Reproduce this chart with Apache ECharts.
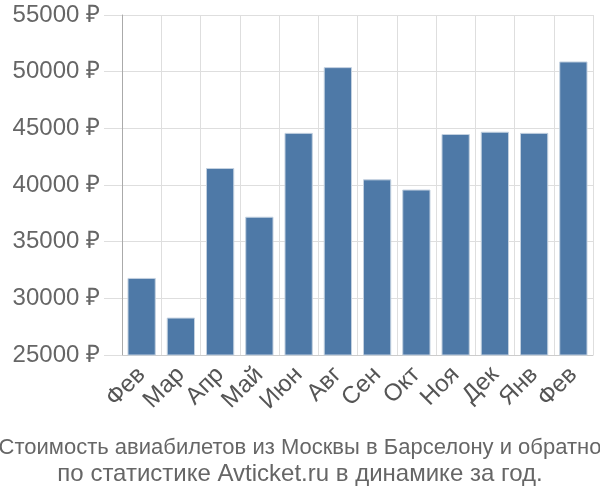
<!DOCTYPE html>
<html>
<head>
<meta charset="utf-8">
<script src="https://cdn.jsdelivr.net/npm/echarts@6/dist/echarts.min.js"></script>
<style>
	html, body { margin: 0; padding: 0; background: #fff; }
	#chart { width: 600px; height: 500px; }
</style>
</head>
<body>
<div id="chart"></div>
<script>
// месяцы и средняя цена билета
const months = ['Фев', 'Мар', 'Апр', 'Май', 'Июн', 'Авг', 'Сен', 'Окт', 'Ноя', 'Дек', 'Янв', 'Фев']
const prices = [31800, 28300, 41500, 37200, 44600, 50400, 40500, 39600, 44500, 44700, 44600, 50900]
const titleLines = [
	'Стоимость авиабилетов из Москвы в Барселону и обратно',
	'по статистике Avticket.ru в динамике за год.',
]

const chart = echarts.init(document.getElementById('chart'))
const font = 'Liberation Sans, Arial, sans-serif'

// первая строка длиннее — шрифт чуть меньше, чтобы влезла
const titleStyle = (size) => ({
	fontFamily: font,
	fontSize: size,
	fontWeight: 'normal',
	color: '#666',
})

chart.setOption({
	animation: false,
	title: [
		{ text: titleLines[0], left: 'center', top: 437, padding: 0, textStyle: titleStyle(22) },
		{ text: titleLines[1], left: 'center', top: 462, padding: 0, textStyle: titleStyle(24) },
	],
	grid: {
		left: 122,
		right: 7,
		top: 15,
		bottom: 145,
	},
	xAxis: {
		type: 'category',
		data: months,
		boundaryGap: true,
		axisLine: { lineStyle: { color: '#ccc' } },
		axisTick: { length: 13, lineStyle: { color: '#ddd' } },
		splitLine: { show: true, lineStyle: { color: '#dedede' } },
		axisLabel: {
			interval: 0,
			rotate: 45,
			fontFamily: font,
			fontSize: 24,
			color: '#555',
			margin: 16,
		},
	},
	yAxis: {
		type: 'value',
		min: 25000,
		max: 55000,
		interval: 5000,
		axisLine: { show: true, lineStyle: { color: '#aaa' } },
		axisTick: { show: true, length: 18, lineStyle: { color: '#dedede' } },
		splitLine: { lineStyle: { color: '#dedede' } },
		axisLabel: {
			formatter: (v) => v + ' ₽',
			fontFamily: font,
			fontSize: 24,
			color: '#666',
			margin: 22,
		},
	},
	series: [
		{
			type: 'bar',
			data: prices,
			barWidth: '72%',
			itemStyle: {
				color: '#4e79a7',
				borderColor: '#c3d1e0',
				borderWidth: 1,
			},
		},
	],
})
</script>
</body>
</html>
